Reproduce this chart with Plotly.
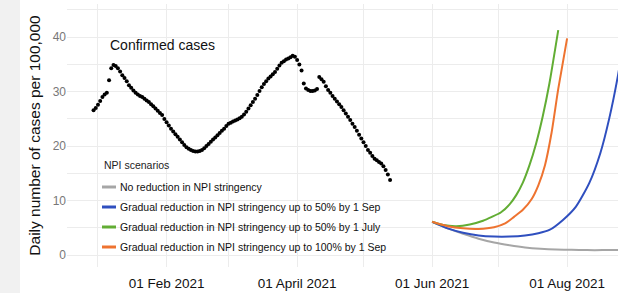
import pandas as pd
import plotly.graph_objects as go

# Confirmed cases (daily, starting 30 Dec 2020)
confirmed_start = "2020-12-30"
confirmed_values = [
    26.6, 27.0, 27.6, 28.3, 29.0, 29.5, 29.8, 32.1, 34.3, 34.9,
    34.7, 34.3, 33.7, 33.0, 32.5, 31.9, 31.2, 30.7, 30.2, 29.8,
    29.5, 29.2, 29.0, 28.7, 28.4, 28.1, 27.7, 27.3, 26.9, 26.5,
    26.1, 25.7, 25.0, 24.4, 23.8, 23.2, 22.7, 22.2, 21.7, 21.2,
    20.7, 20.2, 19.8, 19.5, 19.3, 19.1, 19.0, 19.0, 19.1, 19.3,
    19.6, 20.0, 20.4, 20.8, 21.2, 21.6, 22.0, 22.4, 22.8, 23.2,
    23.7, 24.1, 24.3, 24.5, 24.7, 24.9, 25.1, 25.4, 25.8, 26.3,
    26.9, 27.5, 28.1, 28.7, 29.4, 30.1, 30.8, 31.4, 31.9, 32.4,
    32.8, 33.2, 33.6, 34.2, 34.8, 35.3, 35.6, 35.9, 36.1, 36.3,
    36.6, 36.4, 35.8, 35.0, 33.9, 31.5, 30.6, 30.3, 30.1, 30.1,
    30.2, 30.5, 32.7, 32.3, 31.8, 31.0, 30.3, 29.8, 29.2, 28.7,
    28.2, 27.7, 27.2, 26.6, 26.0, 25.4, 24.8, 24.1, 23.5, 22.8,
    22.1, 21.4, 20.7, 20.0, 19.3, 18.8, 18.2, 17.7, 17.4, 17.1,
    16.8, 16.3, 15.6, 14.8, 13.8,
]
confirmed_dates = pd.date_range(confirmed_start, periods=len(confirmed_values), freq="D")

# NPI scenarios
gray_dates = ["2021-06-01", "2021-06-08", "2021-06-15", "2021-06-22", "2021-06-29", "2021-07-06",
              "2021-07-13", "2021-07-20", "2021-07-27", "2021-08-03", "2021-08-10", "2021-08-17",
              "2021-08-24", "2021-08-31"]
gray_values = [6.1, 4.9, 3.9, 3.0, 2.3, 1.8, 1.4, 1.15, 1.0, 0.95, 0.9, 0.9, 0.9, 0.9]

blue_dates = ["2021-06-01", "2021-06-08", "2021-06-15", "2021-06-22", "2021-06-29", "2021-07-06",
              "2021-07-13", "2021-07-19", "2021-07-24", "2021-07-30", "2021-08-05", "2021-08-11",
              "2021-08-16", "2021-08-20", "2021-08-24", "2021-08-28"]
blue_values = [6.1, 4.9, 4.1, 3.6, 3.4, 3.4, 3.6, 4.0, 4.6, 6.4, 8.9, 13.2, 18.7, 25.0, 33.0, 43.0]

green_dates = ["2021-06-01", "2021-06-06", "2021-06-12", "2021-06-18", "2021-06-24", "2021-06-28",
               "2021-07-02", "2021-07-06", "2021-07-09", "2021-07-12", "2021-07-15", "2021-07-18",
               "2021-07-21", "2021-07-24", "2021-07-28"]
green_values = [6.1, 5.5, 5.3, 5.6, 6.3, 7.0, 7.8, 9.3, 11.0, 13.3, 16.5, 20.5, 25.5, 31.5, 41.3]

orange_dates = ["2021-06-01", "2021-06-08", "2021-06-15", "2021-06-22", "2021-06-29", "2021-07-04",
                "2021-07-08", "2021-07-12", "2021-07-16", "2021-07-19", "2021-07-22", "2021-07-25",
                "2021-07-28", "2021-08-01"]
orange_values = [6.1, 5.3, 4.9, 4.8, 5.1, 5.8, 7.0, 8.3, 10.3, 12.8, 16.5, 22.5, 30.5, 39.8]

scenario_names = [
    "No reduction in NPI stringency",
    "Gradual reduction in NPI stringency up to 50% by 1 Sep",
    "Gradual reduction in NPI stringency up to 50% by 1 July",
    "Gradual reduction in NPI stringency up to 100% by 1 Sep",
]
scenario_colors = ["#a6a6a6", "#2f4fbf", "#62ad34", "#ee7330"]
legend_title = "NPI scenarios"

y_ticks = [0, 10, 20, 30, 40]
y_minor = [5, 15, 25, 35, 45]
x_ticks = ["2021-02-01", "2021-04-01", "2021-06-01", "2021-08-01"]
x_tick_labels = ["01 Feb 2021", "01 April 2021", "01 Jun 2021", "01 Aug 2021"]
x_minor = ["2021-01-01", "2021-03-01", "2021-05-01", "2021-07-01"]

# plot-area geometry (pixels)
W, H = 618, 293
ML, MR, MT, MB = 67, 0, 4, 26
PW, PH = W - ML - MR, H - MT - MB


def px(x):
    return (x - ML) / PW


def py(y):
    return (H - MB - y) / PH


fig = go.Figure()

fig.add_trace(go.Scatter(
    x=confirmed_dates, y=confirmed_values, mode="markers",
    marker=dict(color="black", size=4), showlegend=False, hoverinfo="skip",
))

for name, color, xs, ys in zip(
    scenario_names, scenario_colors,
    [gray_dates, blue_dates, green_dates, orange_dates],
    [gray_values, blue_values, green_values, orange_values],
):
    fig.add_trace(go.Scatter(
        x=pd.to_datetime(xs), y=ys, mode="lines", name=name, showlegend=False,
        line=dict(color=color, width=2, shape="spline", smoothing=0.6),
    ))

fig.add_annotation(
    x="2021-01-30", y=38.5, text="Confirmed cases", showarrow=False,
    font=dict(family="Liberation Sans, Arial", size=14, color="#111"),
)

# legend (drawn)
fig.add_annotation(xref="paper", yref="paper", x=px(102), y=py(165), xanchor="left", yanchor="middle",
                   text=legend_title, showarrow=False, font=dict(size=10.5, color="#222"))
for i, (name, color) in enumerate(zip(scenario_names, scenario_colors)):
    yy = 187 + 20 * i
    fig.add_shape(type="line", xref="paper", yref="paper", x0=px(102), x1=px(116), y0=py(yy), y1=py(yy),
                  line=dict(color=color, width=3))
    fig.add_annotation(xref="paper", yref="paper", x=px(118), y=py(yy), xanchor="left", yanchor="middle",
                       text=name, showarrow=False, font=dict(size=10.5, color="#111"))

# page strip at left
fig.add_shape(type="rect", xref="paper", yref="paper",
              x0=px(0), x1=px(20), y0=-0.2, y1=1.2,
              fillcolor="#f1f1f1", line=dict(width=0), layer="below")

grid = "#ececec"
fig.update_layout(
    width=W, height=H,
    margin=dict(l=ML, r=MR, t=MT, b=MB),
    paper_bgcolor="white", plot_bgcolor="white",
    font=dict(family="Liberation Sans, Arial", color="#222"),
    showlegend=False,
    xaxis=dict(
        type="date", range=["2020-12-18", "2021-08-24"],
        tickmode="array", tickvals=x_ticks, ticktext=x_tick_labels,
        tickfont=dict(size=13.5, color="#111"),
        showgrid=True, gridcolor=grid, gridwidth=1,
        minor=dict(tickmode="array", tickvals=x_minor, showgrid=True, gridcolor=grid, gridwidth=1),
        zeroline=False, showline=False, ticks="", ticklabelstandoff=6,
    ),
    yaxis=dict(
        range=[-2.2, 46.1],
        tickmode="array", tickvals=y_ticks,
        tickfont=dict(size=12, color="#777"),
        showgrid=True, gridcolor=grid, gridwidth=1,
        minor=dict(tickmode="array", tickvals=y_minor, showgrid=True, gridcolor=grid, gridwidth=1),
        zeroline=False, showline=False, ticks="",
        title=dict(text="Daily number of cases per 100,000", font=dict(size=15.5, color="#111"), standoff=8),
    ),
)

fig.write_html("out.html", config={"displayModeBar": False},
               post_script="document.body.style.margin='0';")
